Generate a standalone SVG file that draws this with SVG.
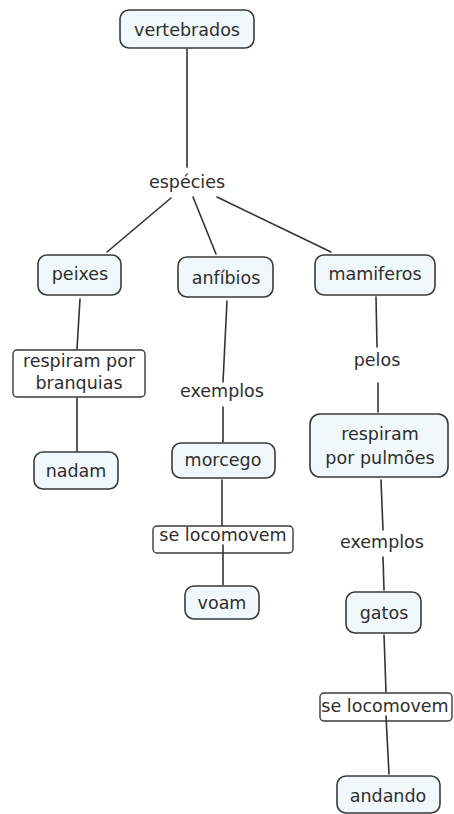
<svg xmlns="http://www.w3.org/2000/svg" width="454" height="814" viewBox="0 0 454 814">
  <style>
    .bg { fill: #ffffff; }
    .concept { fill: #f1f8fb; stroke: #3a3a3a; stroke-width: 1.6; }
    .plain { fill: #ffffff; stroke: #3a3a3a; stroke-width: 1.4; }
    .lbl { font-family: "DejaVu Sans", Verdana, sans-serif; font-size: 17.5px; fill: #2e2e2e; text-anchor: middle; }
    .link { stroke: #333333; stroke-width: 1.6; fill: none; stroke-linecap: round; }
  </style>
  <rect class="bg" x="0" y="0" width="454" height="814"/>

  <!-- connectors -->
  <g id="connectors">
    <line class="link" x1="187" y1="49" x2="187" y2="167"/>
    <line class="link" x1="171" y1="198" x2="107" y2="252"/>
    <line class="link" x1="193" y1="197" x2="216" y2="254"/>
    <line class="link" x1="217" y1="197" x2="331" y2="252"/>
    <line class="link" x1="80" y1="299" x2="77" y2="349"/>
    <line class="link" x1="77" y1="398" x2="77" y2="452"/>
    <line class="link" x1="227" y1="301" x2="223" y2="382"/>
    <line class="link" x1="223" y1="407" x2="223" y2="442"/>
    <line class="link" x1="222" y1="480" x2="222" y2="525"/>
    <line class="link" x1="376" y1="297" x2="377" y2="347"/>
    <line class="link" x1="378" y1="383" x2="378" y2="412"/>
    <line class="link" x1="381" y1="480" x2="383" y2="530"/>
    <line class="link" x1="383" y1="557" x2="384" y2="590"/>
    <line class="link" x1="384" y1="635" x2="386" y2="692"/>
  </g>

  <g id="vertebrados">
    <rect class="concept" x="120" y="10" width="134" height="38" rx="9"/>
    <text class="lbl" x="187" y="36">vertebrados</text>
  </g>

  <g id="especies">
    <text class="lbl" x="187" y="188">espécies</text>
  </g>

  <g id="peixes">
    <rect class="concept" x="38" y="255" width="83" height="40" rx="9"/>
    <text class="lbl" x="80" y="280">peixes</text>
  </g>

  <g id="anfibios">
    <rect class="concept" x="178" y="257" width="95" height="40" rx="9"/>
    <text class="lbl" x="226" y="284">anfíbios</text>
  </g>

  <g id="mamiferos">
    <rect class="concept" x="315" y="255" width="120" height="40" rx="9"/>
    <text class="lbl" x="375" y="280">mamiferos</text>
  </g>

  <g id="respiram-branquias">
    <rect class="plain" x="13" y="350" width="132" height="47" rx="4"/>
    <text class="lbl" x="79" y="367">respiram por</text>
    <text class="lbl" x="79" y="389">branquias</text>
  </g>

  <g id="nadam">
    <rect class="concept" x="34" y="452" width="84" height="37" rx="9"/>
    <text class="lbl" x="76" y="477">nadam</text>
  </g>

  <g id="exemplos-anfibios">
    <text class="lbl" x="222" y="397">exemplos</text>
  </g>

  <g id="morcego">
    <rect class="concept" x="172" y="443" width="103" height="35" rx="9"/>
    <text class="lbl" x="223" y="466">morcego</text>
  </g>

  <g id="se-locomovem-voam">
    <rect class="plain" x="153" y="526" width="140" height="27" rx="4"/>
    <text class="lbl" x="223" y="541">se locomovem</text>
  </g>
  <line class="link" x1="223" y1="545" x2="223" y2="585"/>

  <g id="voam">
    <rect class="concept" x="185" y="586" width="74" height="33" rx="9"/>
    <text class="lbl" x="222" y="609">voam</text>
  </g>

  <g id="pelos">
    <text class="lbl" x="377" y="366">pelos</text>
  </g>

  <g id="respiram-pulmoes">
    <rect class="concept" x="310" y="414" width="138" height="63" rx="10"/>
    <text class="lbl" x="380" y="440">respiram</text>
    <text class="lbl" x="380" y="464">por pulmões</text>
  </g>

  <g id="exemplos-mamiferos">
    <text class="lbl" x="382" y="548">exemplos</text>
  </g>

  <g id="gatos">
    <rect class="concept" x="346" y="592" width="75" height="41" rx="9"/>
    <text class="lbl" x="384" y="619">gatos</text>
  </g>

  <g id="se-locomovem-andando">
    <rect class="plain" x="320" y="693" width="132" height="28" rx="4"/>
    <text class="lbl" x="385" y="712">se locomovem</text>
  </g>
  <line class="link" x1="386" y1="716" x2="389" y2="774"/>

  <g id="andando">
    <rect class="concept" x="337" y="776" width="103" height="37" rx="9"/>
    <text class="lbl" x="388" y="802">andando</text>
  </g>
</svg>
